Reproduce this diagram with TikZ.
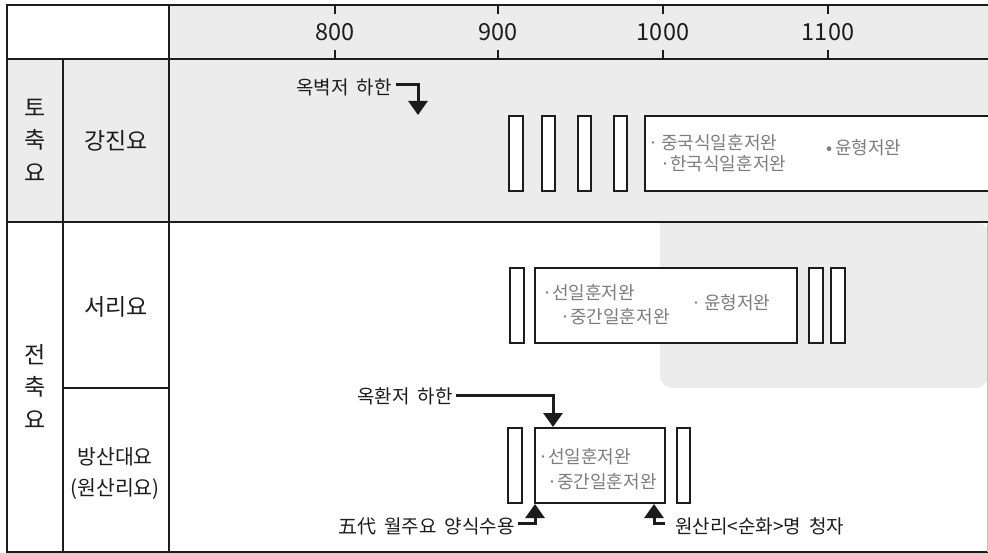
\documentclass[tikz,border=0pt]{standalone}
\usepackage{fontspec}
\setmainfont{Noto Sans CJK KR}
\usetikzlibrary{arrows.meta}
\definecolor{bggray}{RGB}{236,236,236}
\definecolor{txtgray}{RGB}{125,125,125}
\definecolor{ink}{RGB}{28,28,28}
\begin{document}
\begin{tikzpicture}[x=1pt,y=-1pt,
  gridline/.style={line width=2.3pt, draw=ink},
  tick/.style={line width=1.8pt, draw=ink},
  bar/.style={draw=ink, line width=2pt, fill=white, inner sep=0pt, anchor=north west},
  yr/.style={font=\fontsize{23.5}{23.5}\selectfont, text=ink, inner sep=0pt},
  lbl/.style={font=\fontsize{23}{23}\selectfont, text=ink, inner sep=0pt},
  lblsm/.style={font=\fontsize{20.5}{20.5}\selectfont, text=ink, inner sep=0pt},
  item/.style={font=\fontsize{18}{18}\selectfont, text=txtgray, anchor=west, inner sep=0pt},
  note/.style={font=\fontsize{19}{19}\selectfont, text=ink, inner sep=0pt},
  pointer/.style={draw=ink, line width=3pt, -{Triangle[width=19pt,length=14pt]}},
]
\useasboundingbox (0,0) rectangle (988,553);
\fill[white] (0,0) rectangle (988,553);
% background tints
\fill[bggray] (169,5) rectangle (988,222);
\fill[bggray] (7,59) rectangle (169,222);
\fill[bggray] (988,222) -- (660,222) [rounded corners=12pt] -- (660,388) -- (988,388) -- cycle;
% table grid
\draw[gridline] (988,5) -- (7,5) -- (7,552) -- (988,552);
\draw[gray!50, line width=0.6pt] (987,222) -- (987,552);
\draw[gridline] (7,59) -- (988,59);
\draw[gridline] (7,222) -- (988,222);
\draw[gridline] (63,59) -- (63,552);
\draw[gridline] (169,5) -- (169,552);
\draw[gridline] (63,388) -- (169,388);
% year ticks and labels
\foreach \x/\y/\n in {335/800/y800, 498/900/y900, 663/1000/y1000, 828/1100/y1100}{
  \draw[tick] (\x,5) -- (\x,14);
  \draw[tick] (\x,50) -- (\x,59);
  \node[yr] (\n) at (\x,32.5) {\y};
}
% left labels
\node[lbl] (t1) at (35,108) {토};
\node[lbl] (t2) at (35,140) {축};
\node[lbl] (t3) at (35,173) {요};
\node[lbl] (gj) at (116,141) {강진요};
\node[lbl] (j1) at (35,355) {전};
\node[lbl] (j2) at (35,387) {축};
\node[lbl] (j3) at (35,420) {요};
\node[lbl] (sr) at (116,307) {서리요};
\node[lblsm] (bs) at (115,457) {방산대요};
\node[lblsm] (ws) at (115,489) {(원산리요)};
% Gangjin row bars
\node[bar, minimum width=14pt, minimum height=75pt] (g1) at (508,115) {};
\node[bar, minimum width=13pt, minimum height=75pt] (g2) at (541,115) {};
\node[bar, minimum width=13pt, minimum height=75pt] (g3) at (577,115) {};
\node[bar, minimum width=13pt, minimum height=75pt] (g4) at (613,115) {};
\node[bar, minimum width=350pt, minimum height=75pt] (gmain) at (644,115) {};
\node[item] (gi1) at (648,143) {·\,중국식일훈저완};
\node[item] (gi2) at (660,164) {·한국식일훈저완};
\node[item] (gi3) at (826,148) {•\,윤형저완};
% Seori row bars
\node[bar, minimum width=14pt, minimum height=75pt] (s1) at (509,267) {};
\node[bar, minimum width=262pt, minimum height=75pt] (smain) at (534,267) {};
\node[bar, minimum width=14pt, minimum height=75pt] (s2) at (808,267) {};
\node[bar, minimum width=14pt, minimum height=75pt] (s3) at (830,267) {};
\node[item] (si1) at (542,293) {·선일훈저완};
\node[item] (si2) at (560,317) {·중간일훈저완};
\node[item] (si3) at (691,303) {·\,윤형저완};
% Bangsandae row bars
\node[bar, minimum width=14pt, minimum height=75pt] (b1) at (507,427) {};
\node[bar, minimum width=130pt, minimum height=75pt] (bmain) at (534,427) {};
\node[bar, minimum width=13pt, minimum height=75pt] (b2) at (676,427) {};
\node[item] (bi1) at (538,457) {·선일훈저완};
\node[item] (bi2) at (547,482) {·중간일훈저완};
% annotations
\node[note, anchor=east] (ok1) at (392,87) {옥벽저\hspace{8pt}하한};
\coordinate (ok1tip) at (418,115);
\draw[pointer] (ok1.east) ++(4,-2) -| (ok1tip);
\node[note, anchor=east] (ok2) at (453,396) {옥환저\hspace{8pt}하한};
\draw[pointer] (ok2.east) ++(3,-1) -| ([xshift=19pt]bmain.north west);
\node[note, anchor=east] (wd) at (515,526) {五代\hspace{8pt}월주요\hspace{8pt}양식수용};
\draw[pointer] (wd.east) ++(3,-3) -| ([xshift=1pt]bmain.south west);
\node[note, anchor=west] (ws2) at (675,526) {원산리<순화>명\hspace{8pt}청자};
\draw[pointer] (ws2.west) ++(-10,-3) -| ([xshift=-12pt]bmain.south east);
\end{tikzpicture}
\end{document}
